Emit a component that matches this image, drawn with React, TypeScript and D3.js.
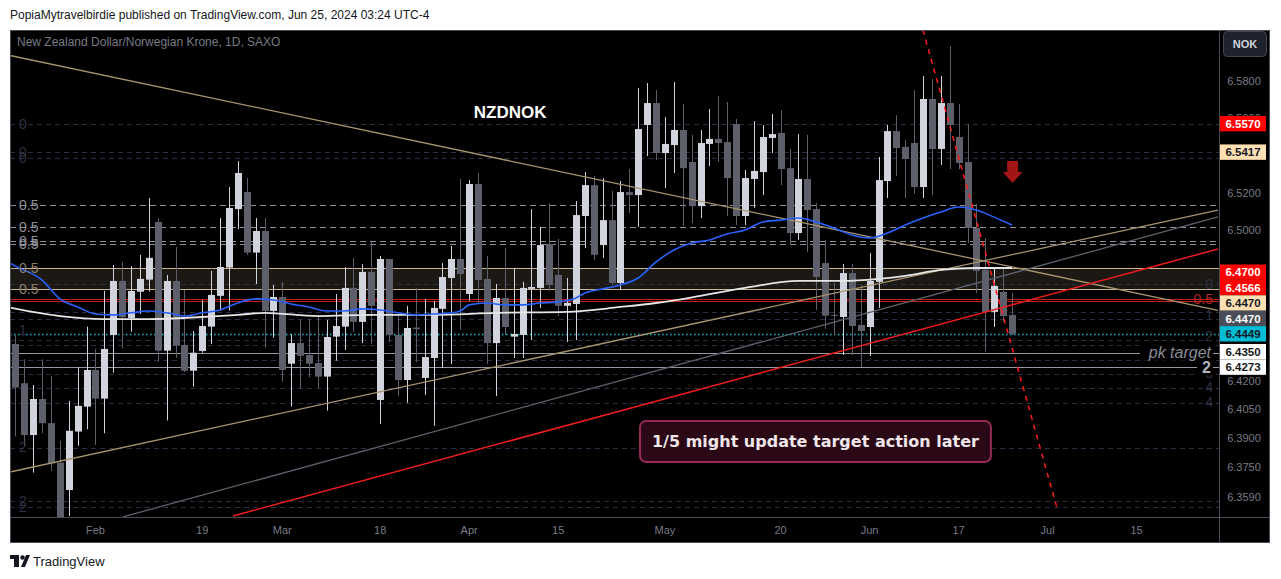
import React from 'react';
import * as d3 from 'd3';

// daily bars, bar 0 = 2024-01-19, weekdays only
const OPEN = [
  6.4395, 6.4188, 6.3916, 6.4105, 6.3978, 6.3771, 6.3628, 6.3934, 6.4065, 6.4258,
  6.4107, 6.4443, 6.4729, 6.4532, 6.4672, 6.4736, 6.5043, 6.4360, 6.4729, 6.4390,
  6.4254, 6.4358, 6.4487, 6.4650, 6.4800, 6.5112, 6.5203, 6.4880, 6.4995, 6.4570,
  6.4644, 6.4291, 6.4400, 6.4337, 6.4294, 6.4223, 6.4434, 6.4487, 6.4692, 6.4512,
  6.4777, 6.4100, 6.4846, 6.4443, 6.4205, 6.4482, 6.4216, 6.4321, 6.4581, 6.4745,
  6.4846, 6.4660, 6.5246, 6.4740, 6.4400, 6.4639, 6.4434, 6.4443, 6.4687, 6.4692,
  6.4926, 6.4761, 6.4597, 6.4607, 6.5075, 6.5240, 6.4920, 6.5053, 6.4718, 6.5203,
  6.5187, 6.5563, 6.5681, 6.5412, 6.5455, 6.5536, 6.5364, 6.5128, 6.5461, 6.5488,
  6.5471, 6.5568, 6.5075, 6.5273, 6.5310, 6.5493, 6.5520, 6.5331, 6.4984, 6.5273,
  6.5112, 6.4824, 6.4549, 6.4538, 6.4771, 6.4496, 6.4485, 6.4724, 6.5262, 6.5530,
  6.5445, 6.5466, 6.5230, 6.5703, 6.5434, 6.5681, 6.5498, 6.5364, 6.5011, 6.4788,
  6.4565, 6.4671, 6.4549,
];
const HIGH = [
  6.4443, 6.4314, 6.4179, 6.4314, 6.4226, 6.3885, 6.4095, 6.4272, 6.4487, 6.4369,
  6.4676, 6.4814, 6.4830, 6.4808, 6.4868, 6.5171, 6.5064, 6.4761, 6.4910, 6.4681,
  6.4464, 6.4628, 6.4782, 6.5064, 6.5230, 6.5369, 6.5278, 6.5064, 6.5064, 6.4708,
  6.4724, 6.4448, 6.4522, 6.4528, 6.4549, 6.4522, 6.4660, 6.4803, 6.4851, 6.4819,
  6.4937, 6.4862, 6.4846, 6.4543, 6.4597, 6.4692, 6.4634, 6.4623, 6.4824, 6.4915,
  6.5273, 6.5267, 6.5305, 6.4862, 6.4713, 6.4904, 6.4798, 6.4724, 6.5112, 6.5016,
  6.5144, 6.4953, 6.4745, 6.5155, 6.5310, 6.5289, 6.5278, 6.5209, 6.5262, 6.5326,
  6.5762, 6.5789, 6.5751, 6.5606, 6.5795, 6.5676, 6.5509, 6.5536, 6.5649, 6.5719,
  6.5687, 6.5595, 6.5321, 6.5584, 6.5563, 6.5622, 6.5643, 6.5434, 6.5514, 6.5509,
  6.5144, 6.4947, 6.4718, 6.4819, 6.4819, 6.4708, 6.4878, 6.5391, 6.5563, 6.5616,
  6.5482, 6.5751, 6.5827, 6.5811, 6.5827, 6.5989, 6.5676, 6.5568, 6.5139, 6.4958,
  6.4803, 6.4798, 6.4665,
];
const LOW = [
  6.3908, 6.3859, 6.3719, 6.3925, 6.3729, 6.3420, 6.3493, 6.3859, 6.3946, 6.3864,
  6.3925, 6.4244, 6.4372, 6.4460, 6.4554, 6.4672, 6.4301, 6.3992, 6.4322, 6.4247,
  6.4170, 6.4349, 6.4395, 6.4575, 6.4572, 6.5005, 6.4868, 6.4713, 6.4375, 6.4428,
  6.4196, 6.4065, 6.4160, 6.4219, 6.4162, 6.4044, 6.4307, 6.4363, 6.4459, 6.4400,
  6.4395, 6.3974, 6.4406, 6.4121, 6.4085, 6.4300, 6.4126, 6.3964, 6.4268, 6.4289,
  6.4470, 6.4623, 6.4607, 6.4289, 6.4121, 6.4443, 6.4321, 6.4321, 6.4416, 6.4586,
  6.4676, 6.4543, 6.4406, 6.4416, 6.4904, 6.4840, 6.4851, 6.4708, 6.4681, 6.5091,
  6.5016, 6.5396, 6.5374, 6.5224, 6.5305, 6.5021, 6.5037, 6.5064, 6.5342, 6.5364,
  6.5075, 6.5027, 6.5027, 6.5118, 6.5187, 6.5412, 6.5240, 6.4920, 6.4947, 6.4883,
  6.4575, 6.4475, 6.4443, 6.4337, 6.4337, 6.4273, 6.4331, 6.4586, 6.5171, 6.5289,
  6.5171, 6.5193, 6.5171, 6.5187, 6.5348, 6.5326, 6.5326, 6.4931, 6.4665, 6.4353,
  6.4485, 6.4512, 6.4443,
];
const CLOSE = [
  6.4165, 6.3916, 6.4105, 6.3978, 6.3768, 6.3472, 6.3938, 6.4069, 6.4258, 6.4107,
  6.4369, 6.4729, 6.4537, 6.4676, 6.4740, 6.4852, 6.4360, 6.4729, 6.4386, 6.4254,
  6.4349, 6.4490, 6.4655, 6.4803, 6.5118, 6.5305, 6.4880, 6.4995, 6.4570, 6.4644,
  6.4258, 6.4400, 6.4333, 6.4291, 6.4223, 6.4432, 6.4490, 6.4692, 6.4512, 6.4777,
  6.4597, 6.4846, 6.4443, 6.4205, 6.4480, 6.4474, 6.4326, 6.4586, 6.4750, 6.4846,
  6.4766, 6.5246, 6.4734, 6.4400, 6.4639, 6.4485, 6.4448, 6.4692, 6.4697, 6.4920,
  6.4708, 6.4597, 6.4613, 6.5080, 6.5240, 6.4868, 6.5053, 6.4718, 6.5203, 6.5187,
  6.5541, 6.5681, 6.5412, 6.5461, 6.5536, 6.5331, 6.5128, 6.5466, 6.5488, 6.5466,
  6.5278, 6.5075, 6.5278, 6.5316, 6.5498, 6.5514, 6.5326, 6.4984, 6.5273, 6.5107,
  6.4750, 6.4545, 6.4545, 6.4771, 6.4490, 6.4464, 6.4729, 6.5267, 6.5530, 6.5439,
  6.5380, 6.5230, 6.5703, 6.5434, 6.5681, 6.5563, 6.5359, 6.5011, 6.4782, 6.4565,
  6.4703, 6.4543, 6.4449,
];

// moving averages: [bar, value]
const BLUE_MA: [number, number][] = [
  [-1, 6.4835], [0, 6.4808], [3, 6.4734], [5, 6.4634], [7, 6.4591], [9, 6.4554], [11, 6.4549],
  [13, 6.4560], [15, 6.4570], [17, 6.4560], [19, 6.4543], [21, 6.4560], [23, 6.4575], [25, 6.4612],
  [27, 6.4634], [29, 6.4628], [31, 6.4607], [33, 6.4591], [35, 6.4570], [37, 6.4570], [39, 6.4581],
  [41, 6.4575], [43, 6.4560], [45, 6.4549], [47, 6.4554], [49, 6.4560], [50, 6.4570], [51, 6.4602],
  [53, 6.4612], [55, 6.4602], [57, 6.4602], [59, 6.4612], [61, 6.4618], [63, 6.4639], [64, 6.4665],
  [66, 6.4687], [68, 6.4708], [70, 6.4745], [72, 6.4830], [74, 6.4894], [76, 6.4931], [78, 6.4947],
  [80, 6.4979], [82, 6.5000], [84, 6.5043], [86, 6.5053], [88, 6.5064], [90, 6.5043], [92, 6.5011],
  [94, 6.4974], [96, 6.4958], [98, 6.4984], [100, 6.5027], [102, 6.5064], [104, 6.5096], [106, 6.5123],
  [108, 6.5107], [110, 6.5069], [112, 6.5027],
];
const WHITE_MA: [number, number][] = [
  [-1, 6.4591], [5, 6.4543], [10, 6.4527], [15, 6.4527], [21, 6.4538], [25, 6.4549], [28, 6.4560],
  [34, 6.4543], [40, 6.4549], [47, 6.4549], [54, 6.4560], [62, 6.4565], [68, 6.4591], [72, 6.4612],
  [77, 6.4650], [82, 6.4692], [88, 6.4729], [93, 6.4729], [97, 6.4740], [100, 6.4756], [104, 6.4788],
  [108, 6.4798], [112, 6.4798],
];

// trend lines: [[bar, price], [bar, price]]
const TAN_DOWN: [number, number][] = [[-0.6, 6.5938], [135.15, 6.4573]];
const TAN_UP: [number, number][] = [[-0.6, 6.3722], [135.15, 6.5107]];
const GRAY_UP: [number, number][] = [[12.1, 6.3488], [135.15, 6.5070]];
const RED_UP: [number, number][] = [[24.46, 6.3493], [135.15, 6.4899]];
const RED_DASH: [number, number][] = [[101.99, 6.6076], [117.15, 6.3519]];

// horizontal levels
const DARK_LEVELS = [6.5570, 6.5417, 6.5385, 6.4713, 6.4566, 6.4527, 6.4416, 6.4390, 6.4311, 6.4237, 6.4163, 6.4085, 6.3848, 6.3571, 6.3540];
const GRAY_LEVELS = [6.5134, 6.5016, 6.4942, 6.4926];
const BAND = [6.4798, 6.4687];
const RED_LEVELS = [6.4634, 6.4623];
const CYAN_LEVEL = 6.4449;
const TARGETS: [number, string][] = [[6.4350, 'pk target'], [6.4273, '2']];

const LEFT_DARK_LABELS: [number, string][] = [[6.5570, '0'], [6.5417, '0'], [6.5385, '0'], [6.4470, '1'], [6.3853, '2'], [6.3571, '2'], [6.3540, '2']];
const RIGHT_DARK_LABELS: [number, string][] = [[6.4713, '0'], [6.4551, '1'], [6.4438, '2'], [6.4242, '3'], [6.4168, '4'], [6.4090, '4']];

const AXIS_TICKS = [6.58, 6.56, 6.52, 6.50, 6.42, 6.405, 6.39, 6.375, 6.359];
const DATE_TICKS: [number, string][] = [
  [9, 'Feb'], [21, '19'], [30, 'Mar'], [41, '18'], [51, 'Apr'], [61, '15'],
  [73, 'May'], [86, '20'], [96, 'Jun'], [106, '17'], [116, 'Jul'], [126, '15'],
];

const PRICE_TAGS: [number, string][] = [
  [6.5570, 'red'], [6.5417, 'peach'], [6.4700, 'red'], [6.4566, 'red'], [6.4470, 'peach'],
  [6.4470, 'last'], [6.4449, 'cyan'], [6.4350, 'white'], [6.4273, 'white'],
];

const NOTE = { text: '1/5 might update target action later', bar0: 70.2, bar1: 109.63, top: 6.3990, bottom: 6.3775 };
const TITLE = { text: 'NZDNOK', bar: 55.6, price: 6.5633 };
const ARROW = { bar: 112.07, top: 6.5369, tip: 6.5252 };

const FONT = 'Liberation Sans, Arial, sans-serif';
const TAG_STYLE: Record<string, [string, string]> = {
  red: ['#ff0000', '#ffffff'],
  peach: ['#ffe0b2', '#131722'],
  last: ['#4a4d57', '#ffffff'],
  cyan: ['#00bcd4', '#131722'],
  white: ['#ffffff', '#131722'],
};

export default function App() {
  const L = 10, R = 1219, T = 30, B = 517, OUTR = 1270, OUTB = 543;
  const x = d3.scaleLinear().domain([-0.6, 135.15]).range([10, 1218]);
  const y = d3.scaleLog().domain([6.359, 6.58]).range([497.3, 81]);
  const fmt = d3.format('.4f');

  const maLine = d3.line<[number, number]>()
    .x(d => x(d[0]))
    .y(d => y(d[1]))
    .curve(d3.curveMonotoneX);
  const seg = d3.line<[number, number]>().x(d => x(d[0])).y(d => y(d[1]));

  // stack price tags from the bottom up so they do not overlap
  const tagH = 15.4;
  const tagY: number[] = new Array(PRICE_TAGS.length);
  let prev = Infinity;
  for (let k = PRICE_TAGS.length - 1; k >= 0; k--) {
    const yy = Math.min(y(PRICE_TAGS[k][0]), prev - tagH);
    tagY[k] = yy;
    prev = yy;
  }

  const hline = (p: number) => Math.round(y(p)) + 0.5;

  return (
    <svg width={1281} height={579} style={{ position: 'absolute', left: 0, top: 0, background: '#fff' }}>
      <defs>
        <clipPath id="plot">
          <rect x={L} y={T} width={R - L} height={B - T} />
        </clipPath>
      </defs>

      <text x={10} y={18.5} fontFamily={FONT} fontSize={12} fill="#131722">
        PopiaMytravelbirdie published on TradingView.com, Jun 25, 2024 03:24 UTC-4
      </text>

      <rect x={L} y={T} width={OUTR - L} height={OUTB - T} fill="#000" />

      <g clipPath="url(#plot)">
        {/* horizontal levels */}
        <rect x={L} y={y(BAND[0])} width={R - L} height={y(BAND[1]) - y(BAND[0])} fill="#1c1915" />
        {DARK_LEVELS.map((p, k) => (
          <line key={'d' + k} x1={L} x2={R} y1={hline(p)} y2={hline(p)} stroke="#2a2e42" strokeDasharray="5 4" />
        ))}
        {GRAY_LEVELS.map((p, k) => (
          <line key={'g' + k} x1={L} x2={R} y1={hline(p)} y2={hline(p)} stroke="#8f9199" strokeDasharray="6 4" />
        ))}
        {BAND.map((p, k) => (
          <line key={'b' + k} x1={L} x2={R} y1={hline(p)} y2={hline(p)} stroke="#c9b48f" />
        ))}
        {RED_LEVELS.map((p, k) => (
          <line key={'r' + k} x1={L} x2={R} y1={hline(p)} y2={hline(p)} stroke="#c41f1f" />
        ))}
        {TARGETS.map(([p], k) => (
          <line key={'t' + k} x1={L} x2={R} y1={hline(p)} y2={hline(p)} stroke="#9598a1" strokeWidth={1.2} />
        ))}
        <line x1={L} x2={R} y1={hline(CYAN_LEVEL)} y2={hline(CYAN_LEVEL)} stroke="#00bcd4" strokeWidth={1.5} strokeDasharray="1.5 2.5" />

        {/* candles */}
        {OPEN.map((o, i) => {
          const c = CLOSE[i];
          const up = c >= o;
          const col = up ? '#d1d4dc' : '#5d606b';
          const cx = Math.round(x(i));
          const top = y(Math.max(o, c));
          const bot = y(Math.min(o, c));
          return (
            <g key={i}>
              <line x1={cx + 0.5} x2={cx + 0.5} y1={y(HIGH[i])} y2={y(LOW[i])} stroke={col} />
              <rect x={cx - 3} y={top} width={7} height={Math.max(1, bot - top)} fill={col} />
            </g>
          );
        })}

        {/* trend lines and averages */}
        <path d={seg(TAN_DOWN) || ''} stroke="#a8946f" strokeWidth={1.3} fill="none" />
        <path d={seg(TAN_UP) || ''} stroke="#a8946f" strokeWidth={1.3} fill="none" />
        <path d={seg(GRAY_UP) || ''} stroke="#5d606b" strokeWidth={1.3} fill="none" />
        <path d={seg(RED_UP) || ''} stroke="#f01c1c" strokeWidth={1.5} fill="none" />
        <path d={maLine(WHITE_MA) || ''} stroke="#e6e6e6" strokeWidth={1.8} fill="none" />
        <path d={maLine(BLUE_MA) || ''} stroke="#2962ff" strokeWidth={1.6} fill="none" />
        <path d={seg(RED_DASH) || ''} stroke="#ff1a1a" strokeWidth={1.5} strokeDasharray="5 5" fill="none" />
      </g>

      {/* level labels */}
      {GRAY_LEVELS.map((p, k) => (
        <text key={'gl' + k} x={19} y={y(p)} dy="0.36em" fontFamily={FONT} fontSize={14} fill="#8f9199">0.5</text>
      ))}
      {BAND.map((p, k) => (
        <text key={'bl' + k} x={19} y={y(p)} dy="0.36em" fontFamily={FONT} fontSize={14} fill="#8b816e">0.5</text>
      ))}
      {LEFT_DARK_LABELS.map(([p, t], k) => (
        <text key={'ld' + k} x={19} y={y(p)} dy="0.36em" fontFamily={FONT} fontSize={14} fill="#2c3142">{t}</text>
      ))}
      {RIGHT_DARK_LABELS.map(([p, t], k) => (
        <text key={'rd' + k} x={1213} y={y(p)} dy="0.36em" textAnchor="end" fontFamily={FONT} fontSize={14} fill="#2c3142">{t}</text>
      ))}
      <text x={1213} y={y(RED_LEVELS[0])} dy="0.36em" textAnchor="end" fontFamily={FONT} fontSize={14} fill="#b22525">0.5</text>

      {TARGETS.map(([p, t], k) => (
        <g key={'tl' + k}>
          <rect x={t === '2' ? 1197 : 1140} y={y(p) - 8} width={t === '2' ? 16 : 73} height={16} fill="#000" />
          <text x={1211} y={y(p)} dy="0.36em" textAnchor="end" fontFamily={FONT} fontSize={16}
            fontStyle={t === '2' ? 'normal' : 'italic'} fontWeight={t === '2' ? 'bold' : 'normal'}
            fill={t === '2' ? '#b2b5be' : '#8a8d96'}>{t}</text>
        </g>
      ))}

      <text x={x(TITLE.bar)} y={y(TITLE.price)} dy="0.36em" textAnchor="middle" fontFamily={FONT} fontSize={17} fontWeight="bold" fill="#ffffff">
        {TITLE.text}
      </text>

      <path
        d={`M${x(ARROW.bar) - 5.5},${y(ARROW.top)} h11 v11 h4.5 L${x(ARROW.bar)},${y(ARROW.tip)} L${x(ARROW.bar) - 10},${y(ARROW.top) + 11} h4.5 Z`}
        fill="#a11515"
      />

      <rect x={x(NOTE.bar0)} y={y(NOTE.top)} width={x(NOTE.bar1) - x(NOTE.bar0)} height={y(NOTE.bottom) - y(NOTE.top)}
        rx={6} fill="#2b0816" stroke="#962a57" strokeWidth={2} />
      <text x={(x(NOTE.bar0) + x(NOTE.bar1)) / 2} y={(y(NOTE.top) + y(NOTE.bottom)) / 2} dy="0.36em" textAnchor="middle"
        fontFamily="DejaVu Sans, sans-serif" fontSize={16} fontWeight="bold" fill="#efe6ea">{NOTE.text}</text>

      <text x={17} y={46} fontFamily={FONT} fontSize={12} fill="#787b86">New Zealand Dollar/Norwegian Krone, 1D, SAXO</text>

      {/* axes */}
      <line x1={R + 0.5} x2={R + 0.5} y1={T} y2={OUTB} stroke="#4a4d57" />
      <line x1={L} x2={OUTR} y1={B + 0.5} y2={B + 0.5} stroke="#4a4d57" />
      <rect x={L + 0.5} y={T + 0.5} width={OUTR - L - 1} height={OUTB - T - 1} fill="none" stroke="#4a4d57" />

      {AXIS_TICKS.map(v => (
        <text key={v} x={1244} y={y(v)} dy="0.36em" textAnchor="middle" fontFamily={FONT} fontSize={11} fill="#787b86">{fmt(v)}</text>
      ))}
      {DATE_TICKS.map(([b, t]) => (
        <text key={t + b} x={x(b)} y={530} dy="0.36em" textAnchor="middle" fontFamily={FONT} fontSize={11} fill="#787b86">{t}</text>
      ))}

      {PRICE_TAGS.map(([v, kind], k) => (
        <g key={'pt' + k}>
          <rect x={R + 1} y={tagY[k] - tagH / 2} width={46} height={tagH} fill={TAG_STYLE[kind][0]} />
          <text x={1243} y={tagY[k]} dy="0.36em" textAnchor="middle" fontFamily={FONT} fontSize={11.5}
            fontWeight="bold" fill={TAG_STYLE[kind][1]}>{fmt(v)}</text>
        </g>
      ))}

      <rect x={1223.5} y={31.5} width={43} height={25} rx={4} fill="#1e222d" stroke="#434651" />
      <text x={1245} y={44} dy="0.36em" textAnchor="middle" fontFamily={FONT} fontSize={11} fontWeight="bold" fill="#d1d4dc">NOK</text>

      {/* footer logo */}
      <g fill="#131722">
        <rect x={10} y={555} width={9} height={4} />
        <rect x={14} y={555} width={5} height={12} />
        <circle cx={22.5} cy={557.5} r={2.2} />
        <path d="M21,567 L26,555 L30,555 L25,567 Z" />
      </g>
      <text x={33} y={566} fontFamily={FONT} fontSize={13} fill="#131722">TradingView</text>
    </svg>
  );
}
